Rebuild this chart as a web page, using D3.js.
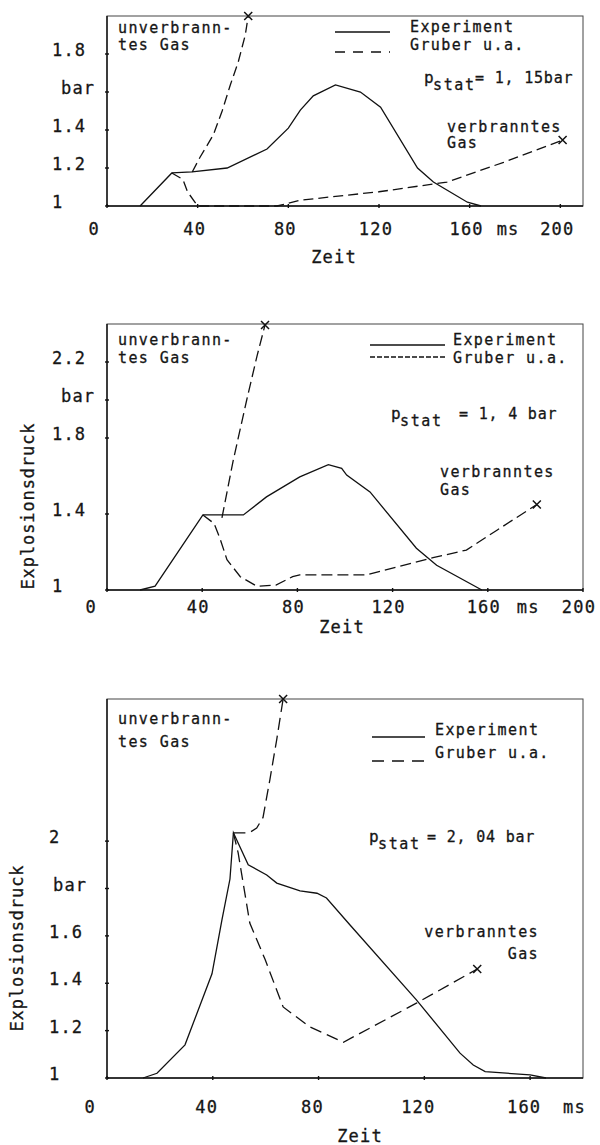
<!DOCTYPE html>
<html><head><meta charset="utf-8">
<script src="https://cdn.jsdelivr.net/npm/d3@7"></script>
<style>
body{margin:0;background:#fff}
svg{display:block}
text{font-family:"DejaVu Sans Mono",monospace;fill:#161616;stroke:#161616;stroke-width:0.3}
</style>
</head><body>
<svg id="c" width="600" height="1145"></svg>
<script>
// ---------- Panel 1 : p_stat = 1,15 bar ----------
const p1ExpT = [14.6, 28.6, 37.5, 53, 70.6, 80, 85.3, 91, 100.8, 111.8, 120.7, 137, 144, 159, 165];
const p1ExpP = [1.0, 1.174, 1.18, 1.2, 1.3, 1.41, 1.505, 1.58, 1.637, 1.6, 1.52, 1.2, 1.126, 1.02, 1.0];
const p1UnbT = [37.6, 41.1, 46.9, 50.8, 54.4, 57.9, 61, 62.3];
const p1UnbP = [1.179, 1.258, 1.374, 1.5, 1.637, 1.758, 1.9, 2.0];
const p1BurT = [28.6, 33.5, 35.5, 40, 75, 85, 120, 150, 175, 201];
const p1BurP = [1.174, 1.14, 1.075, 1.0, 1.0, 1.03, 1.075, 1.126, 1.23, 1.347];
const p1XTicks = [0, 40, 80, 120, 160, 200];
const p1YTicks = [1, 1.2, 1.4, 1.6, 1.8];
const p1YLabels = ["1", "1.2", "1.4", "bar", "1.8"];

// ---------- Panel 2 : p_stat = 1,4 bar ----------
const p2ExpT = [13.9, 20.2, 40.3, 57.3, 67, 81, 93, 98.6, 100.7, 110.5, 130, 138.5, 157.5];
const p2ExpP = [1.0, 1.02, 1.395, 1.395, 1.49, 1.595, 1.66, 1.64, 1.605, 1.516, 1.22, 1.13, 1.0];
const p2UnbT = [48.3, 53, 58.7, 63, 66.4];
const p2UnbP = [1.38, 1.68, 2.0, 2.23, 2.395];
const p2BurT = [40.3, 45, 47.5, 50.4, 56, 63, 71, 78, 81, 109, 137, 151, 164, 180.6];
const p2BurP = [1.395, 1.35, 1.27, 1.16, 1.07, 1.02, 1.026, 1.07, 1.08, 1.08, 1.17, 1.21, 1.316, 1.45];
const p2XTicks = [0, 40, 80, 120, 160, 200];
const p2YTicks = [1, 1.4, 1.8, 2.0, 2.2];
const p2YLabels = ["1", "1.4", "1.8", "bar", "2.2"];

// ---------- Panel 3 : p_stat = 2,04 bar ----------
const p3ExpT = [13.6, 18.9, 29.5, 39.7, 43.5, 46.5, 47.8, 53.4, 60.4, 64.2, 73, 79.4, 83, 91.9, 117, 133.5, 138.5, 143, 160, 166];
const p3ExpP = [1.0, 1.02, 1.14, 1.44, 1.67, 1.84, 2.035, 1.9, 1.857, 1.823, 1.79, 1.78, 1.76, 1.646, 1.33, 1.105, 1.055, 1.027, 1.013, 1.0];
const p3UnbT = [47.8, 53.7, 56.6, 59, 61.6, 64.2, 66.6];
const p3UnbP = [2.035, 2.035, 2.055, 2.1, 2.26, 2.43, 2.6];
const p3BurT = [47.8, 49.6, 54, 59.8, 66.6, 76.8, 89.4, 117, 140];
const p3BurP = [2.035, 1.95, 1.654, 1.5, 1.3, 1.215, 1.151, 1.316, 1.46];
const p3XTicks = [0, 40, 80, 120, 160];
const p3YTicks = [1, 1.2, 1.4, 1.6, 1.8, 2];
const p3YLabels = ["1", "1.2", "1.4", "1.6", "bar", "2"];

const legendLabels = ["Experiment", "Gruber u.a."];
const xTitle = "Zeit";
const yTitle = "Explosionsdruck";

const svg = d3.select("#c");
const zip = (a, b) => a.map((t, i) => [t, b[i]]);

function panel(cfg) {
  const x = d3.scaleLinear().domain(cfg.xDom).range([cfg.l, cfg.r]);
  const y = d3.scaleLinear().domain(cfg.yDom).range([cfg.b, cfg.t]);
  const g = svg.append("g");
  g.append("rect").attr("x", cfg.l).attr("y", cfg.t).attr("width", cfg.r - cfg.l).attr("height", cfg.b - cfg.t)
    .attr("fill", "none").attr("stroke", "#444").attr("stroke-width", 1);
  g.append("line").attr("x1", cfg.l).attr("x2", cfg.r).attr("y1", cfg.b).attr("y2", cfg.b).attr("stroke", "#111").attr("stroke-width", 1.4);
  g.append("line").attr("x1", cfg.l).attr("x2", cfg.l).attr("y1", cfg.t).attr("y2", cfg.b).attr("stroke", "#111").attr("stroke-width", 1.4);
  const axTxt = (sel) => sel.attr("font-size", 17).attr("letter-spacing", 1.2);
  cfg.xTicks.forEach(v => {
    g.append("line").attr("x1", x(v)).attr("x2", x(v)).attr("y1", cfg.b - 2).attr("y2", cfg.b + 2).attr("stroke", "#111").attr("stroke-width", 1.4);
    const lab = axTxt(g.append("text")).attr("y", cfg.b + cfg.xLabDy).text(String(v));
    if (v === 0) lab.attr("x", x(v) - cfg.zeroOff).attr("text-anchor", "end");
    else lab.attr("x", x(v) + cfg.xLabDx).attr("text-anchor", "middle");
  });
  axTxt(g.append("text")).attr("x", x(160) + cfg.msOff).attr("y", cfg.b + cfg.xLabDy).text("ms");
  axTxt(g.append("text")).attr("x", cfg.zeitX).attr("y", cfg.zeitY).attr("text-anchor", "middle").text(xTitle);
  cfg.yTicks.forEach((v, i) => {
    g.append("line").attr("x1", cfg.l - 2).attr("x2", cfg.l + 2).attr("y1", y(v)).attr("y2", y(v)).attr("stroke", "#111").attr("stroke-width", 1.4);
    const lbl = cfg.yLabels[i];
    axTxt(g.append("text")).attr("x", lbl === "bar" ? cfg.barX : cfg.yLabX).attr("y", y(v) + 2).text(lbl);
  });
  if (cfg.yTitle) {
    g.append("text").attr("transform", `translate(${cfg.yTitleX},${cfg.yTitleY}) rotate(-90)`).attr("text-anchor", "middle")
      .attr("font-size", 17).attr("letter-spacing", 0.9).text(yTitle);
  }
  const line = d3.line().x(d => x(d[0])).y(d => y(d[1]));
  g.append("path").attr("d", line(zip(cfg.expT, cfg.expP))).attr("fill", "none").attr("stroke", "#111").attr("stroke-width", 1.3);
  g.append("path").attr("d", line(zip(cfg.unbT, cfg.unbP))).attr("fill", "none").attr("stroke", "#111").attr("stroke-width", 1.3).attr("stroke-dasharray", cfg.dash);
  g.append("path").attr("d", line(zip(cfg.burT, cfg.burP))).attr("fill", "none").attr("stroke", "#111").attr("stroke-width", 1.3).attr("stroke-dasharray", cfg.dash);
  [[cfg.unbT, cfg.unbP], [cfg.burT, cfg.burP]].forEach(([T, P]) => {
    const cx = x(T[T.length - 1]), cy = y(P[P.length - 1]), s = 4;
    g.append("path").attr("d", `M${cx - s},${cy - s}L${cx + s},${cy + s}M${cx - s},${cy + s}L${cx + s},${cy - s}`)
      .attr("stroke", "#111").attr("stroke-width", 1.5);
  });
  const txt = (tx, ty, s, anchor) => g.append("text").attr("x", tx).attr("y", ty).attr("font-size", 15).attr("letter-spacing", 1.4)
    .attr("text-anchor", anchor || "start").text(s);
  txt(118, cfg.unbY1, "unverbrann-");
  txt(118, cfg.unbY2, "tes Gas");
  g.append("line").attr("x1", cfg.legX1).attr("x2", cfg.legX2).attr("y1", cfg.legY1).attr("y2", cfg.legY1).attr("stroke", "#111").attr("stroke-width", 1.3);
  g.append("line").attr("x1", cfg.legX1).attr("x2", cfg.legX2).attr("y1", cfg.legY2).attr("y2", cfg.legY2).attr("stroke", "#111").attr("stroke-width", 1.3).attr("stroke-dasharray", cfg.legDash);
  txt(cfg.legTX, cfg.legTY1, legendLabels[0]);
  txt(cfg.legTX, cfg.legTY2, legendLabels[1]);
  g.append("text").attr("x", cfg.pX).attr("y", cfg.pY).attr("font-size", 16).text("p");
  g.append("text").attr("x", cfg.pX + 9).attr("y", cfg.pY + 7).attr("font-size", 15).attr("letter-spacing", 1.6).text("stat");
  g.append("text").attr("x", cfg.eqX).attr("y", cfg.pY).attr("font-size", 15).attr("letter-spacing", 0.8).text(cfg.pText);
  txt(cfg.vbX, cfg.vbY1, "verbranntes", cfg.vbAnchor);
  txt(cfg.gasX, cfg.vbY2, "Gas", cfg.vbAnchor);
}

panel({
  l: 107, r: 583, t: 16, b: 206, xDom: [0, 210], yDom: [1, 2],
  xTicks: p1XTicks, yTicks: p1YTicks, yLabels: p1YLabels,
  xLabDy: 29, xLabDx: -3, zeroOff: 7, msOff: 27, zeitX: 334, zeitY: 263,
  yLabX: 52, barX: 61, yTitle: false,
  expT: p1ExpT, expP: p1ExpP, unbT: p1UnbT, unbP: p1UnbP, burT: p1BurT, burP: p1BurP,
  dash: "10,5", unbY1: 33, unbY2: 50,
  legX1: 335, legX2: 390, legY1: 32, legY2: 52, legDash: "10,8", legTX: 410, legTY1: 32, legTY2: 50,
  pX: 424, pY: 83, eqX: 475, pText: "= 1, 15bar",
  vbX: 447, gasX: 447, vbY1: 132, vbY2: 148, vbAnchor: "start"
});

panel({
  l: 107, r: 583, t: 324, b: 590, xDom: [0, 200], yDom: [1, 2.4],
  xTicks: p2XTicks, yTicks: p2YTicks, yLabels: p2YLabels,
  xLabDy: 23, xLabDx: -4, zeroOff: 10, msOff: 29, zeitX: 342, zeitY: 633,
  yLabX: 52, barX: 61, yTitle: true, yTitleX: 34, yTitleY: 506,
  expT: p2ExpT, expP: p2ExpP, unbT: p2UnbT, unbP: p2UnbP, burT: p2BurT, burP: p2BurP,
  dash: "11,5", unbY1: 345, unbY2: 363,
  legX1: 370, legX2: 445, legY1: 345, legY2: 357, legDash: "5,2", legTX: 453, legTY1: 345, legTY2: 363,
  pX: 391, pY: 419, eqX: 459, pText: "= 1, 4 bar",
  vbX: 440, gasX: 440, vbY1: 477, vbY2: 495, vbAnchor: "start"
});

panel({
  l: 107, r: 583, t: 699, b: 1078, xDom: [0, 180], yDom: [1, 2.6],
  xTicks: p3XTicks, yTicks: p3YTicks, yLabels: p3YLabels,
  xLabDy: 35, xLabDx: -6, zeroOff: 11, msOff: 33, zeitX: 360, zeitY: 1142,
  yLabX: 49, barX: 53, yTitle: true, yTitleX: 23, yTitleY: 948,
  expT: p3ExpT, expP: p3ExpP, unbT: p3UnbT, unbP: p3UnbP, burT: p3BurT, burP: p3BurP,
  dash: "12,6", unbY1: 724, unbY2: 747,
  legX1: 372, legX2: 425, legY1: 737, legY2: 761, legDash: "12,8", legTX: 435, legTY1: 735, legTY2: 758,
  pX: 369, pY: 842, eqX: 427, pText: "= 2, 04 bar",
  vbX: 539, gasX: 539, vbY1: 937, vbY2: 959, vbAnchor: "end"
});
</script>
</body></html>
